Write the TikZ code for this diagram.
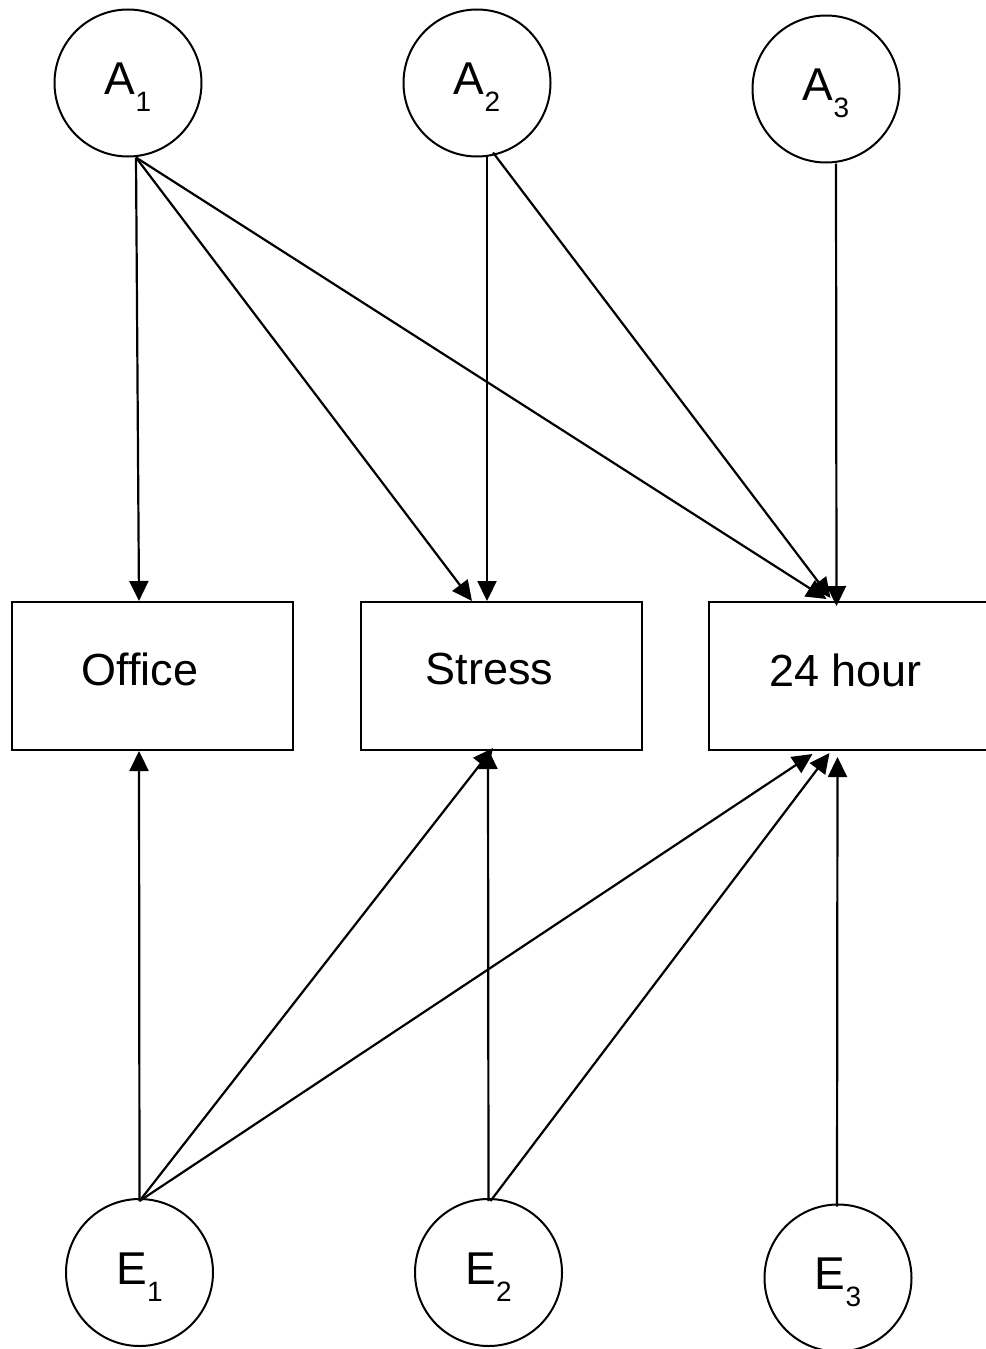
\documentclass[tikz,border=0pt]{standalone}
\usepackage{fontspec}
\setmainfont{Liberation Sans}
\usetikzlibrary{arrows.meta,calc}
\newcommand{\lbl}[2]{#1\raisebox{-8.5pt}{\fontsize{14pt}{14pt}\selectfont #2}}
\begin{document}
\begin{tikzpicture}[x=0.5pt,y=-0.5pt,
  lat/.style={draw,circle,line width=1pt,minimum size=73.5pt,inner sep=0pt,text height=16.5pt,text depth=4.6pt,font=\fontsize{23pt}{24pt}\selectfont},
  obs/.style={draw,rectangle,line width=1pt,minimum width=140.5pt,minimum height=74pt,inner sep=0pt},
  boxtxt/.style={font=\fontsize{22.5pt}{24pt}\selectfont},
  arr/.style={line width=1.1pt,-{Triangle[length=10pt,width=9.5pt]}}]
\useasboundingbox (0,0) rectangle (985,1349);
\node[lat] (A1) at (128,83) {\lbl{A}{1}};
\node[lat] (A2) at (477,83) {\lbl{A}{2}};
\node[lat] (A3) at (826,89) {\lbl{A}{3}};
\node[lat] (E1) at (139.5,1272.5) {\lbl{E}{1}};
\node[lat] (E2) at (488.5,1272.5) {\lbl{E}{2}};
\node[lat] (E3) at (838,1278) {\lbl{E}{3}};
\node[obs,label={[boxtxt,xshift=-6.25pt,yshift=3.5pt]center:Office}] (office) at (152.5,676) {};
\node[obs,label={[boxtxt,xshift=-5.75pt,yshift=3.5pt]center:Stress}] (stress) at (501,676) {};
\node[obs,label={[boxtxt,xshift=-2pt,yshift=3pt]center:24 hour}] (hour) at (849.5,676) {};
% from A
\draw[arr] ($(A1.south)+(8,0)$) -- ($(office.north)+(-13.5,0)$);
\draw[arr] ($(A1.south)+(8,0)$) -- ($(stress.north)+(-29,0)$);
\draw[arr] ($(A1.south)+(8,0)$) -- ($(hour.north)+(-23,-2)$);
\draw[arr] ($(A2.south)+(10,-2)$) -- ($(stress.north)+(-14,0)$);
\draw[arr] ($(A2.south)+(16,-5)$) -- ($(hour.north)+(-19,-3)$);
\draw[arr] ($(A3.south)+(10,0)$) -- ($(hour.north)+(-13,5)$);
% from E
\draw[arr] ($(E1.north)+(0,3)$) -- ($(office.south)+(-13.5,0)$);
\draw[arr] ($(E1.north)+(0,3)$) -- ($(stress.south)+(-8,-3)$);
\draw[arr] ($(E1.north)+(0,3)$) -- ($(hour.south)+(-37,3)$);
\draw[arr] ($(E2.north)+(0,3)$) -- ($(stress.south)+(-13,-2)$);
\draw[arr] ($(E2.north)+(2,3)$) -- ($(hour.south)+(-20,2)$);
\draw[arr] ($(E3.north)+(-1,3)$) -- ($(hour.south)+(-12,6)$);
\end{tikzpicture}
\end{document}
